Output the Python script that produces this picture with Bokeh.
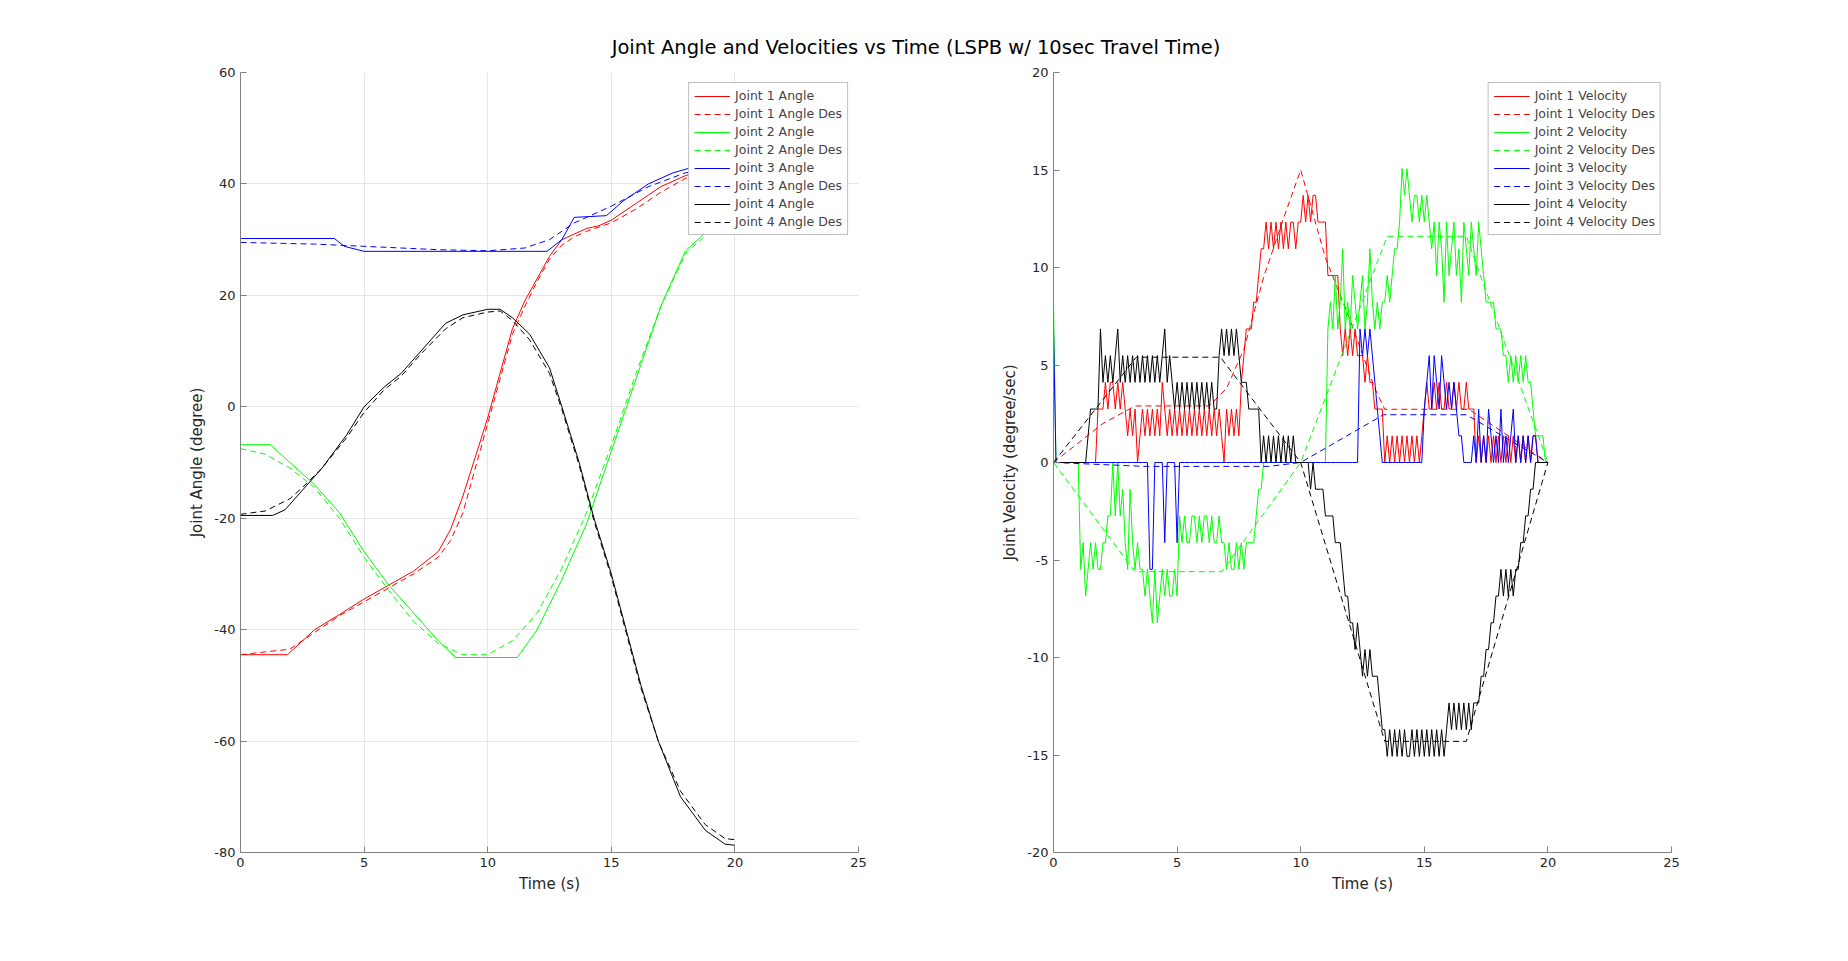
from bokeh.plotting import figure
from bokeh.models import Div, Legend, LegendItem, FixedTicker
from bokeh.layouts import column, row
from bokeh.embed import file_html
from bokeh.resources import INLINE

# ---------------- data: joint angles ----------------
j1_t = [0,1.9,3,4,5,6,7,8,8.5,9,9.5,10,10.5,11,11.5,12,12.5,13,13.5,14,14.5,15,15.5,16,16.5,17,17.5,18,19,20]
j1_a = [-44.5,-44.5,-40,-37.3,-34.5,-32,-29.5,-26,-22,-16,-9,-2,6,14,19,23,27,30,31,32,32.5,33.5,35,36.5,38,39.5,40.5,41.5,42.5,43]
j1d_t = [0,2,3,4,5,6,7,8,8.5,9,9.5,10,10.5,11,11.5,12,12.5,13,13.5,14,15,16,17,18,19,20]
j1d_a = [-44.5,-43.5,-40.5,-37.5,-35,-32.5,-30,-27,-24,-19,-11,-3,5,13,18,22.5,26.5,29,30.5,31.5,33,35.5,38.5,41,42,42.3]
j2_t = [0,1.2,2,3,4,5,6,7,8,8.7,11.2,12,13,14,15,16,17,18,19,20]
j2_a = [-6.8,-6.8,-10,-14,-19,-26,-32,-37,-42,-45,-45,-40,-31,-21,-8,5,18,28,32,34]
j2d_t = [0,1,2,3,4,5,6,7,8,9,10,11,12,13,14,15,16,17,18,19,20]
j2d_a = [-7.5,-8.5,-11,-14.5,-20,-27,-33,-38.5,-42.5,-44.5,-44.5,-42,-37,-29,-19,-7,6,18,27.5,31.5,33.5]
j3_t = [0,3.8,4.2,5,12.4,13,13.5,14.8,15.5,16.5,17.5,18.3,20]
j3_a = [30.2,30.2,28.8,27.9,27.9,30,34,34.3,37,40,42,43,43.5]
j3d_t = [0,3,5,8,10,11.5,12.5,13.5,15,16.5,18,20]
j3d_a = [29.5,29.2,28.8,28.2,28,28.5,30,33,36,39.5,42,43]
j4_t = [0,1.3,1.8,2.5,3.3,4.3,5,5.8,6.5,7.3,8.3,9,10,10.5,11,11.7,12.5,13,13.7,14.3,15,15.6,16.2,16.9,17.8,18.8,19.6,20]
j4_a = [-19.5,-19.5,-18.5,-15,-11,-5,0,3.5,6,10,15,16.5,17.5,17.5,16,13,7,0,-10,-20,-30,-40,-50,-60,-70,-76,-78.5,-78.7]
j4d_t = [0,1,2,2.5,3.3,4.3,5,5.8,6.5,7.3,8.3,9,10,10.5,11,11.7,12.5,13,13.7,14.3,15,15.6,16.2,16.9,17.8,18.8,19.6,20]
j4d_a = [-19.3,-18.7,-16.5,-14.5,-11,-5.5,-1,3,5.5,9.5,14,16,17,17.2,15.5,12,6,-0.5,-10.5,-20.5,-30.5,-40.5,-50.5,-60,-69,-75,-77.5,-77.7]

# ---------------- data: joint velocities (quantised, level index every 0.1 s) ----------------
vel_step = 1.37
vel_t = [i / 10 for i in range(201)]
j1_lv = ([0]*18 + [2,2,2,3,2,3,3,2,3,2,3,2]
         + [1,2,1,2,0,1,2,1,2,1, 2,1,2,1,3,2,1,2,1,2, 1,2,1,2,1,2,1,2,1,2, 1,2,1,2,1,2,1,2,1,0, 2,1,2,1,2,1]
         + [3,4,5,5,5,6,6,7,8,8,9,8,9,8,9,8,9,8,9,8,9,9,8,9,9]
         + [10,9,10,9,10,10,9,9,9,9] + [7,7,7,7,7]
         + [5,4,5,4,5,4,5,4,4,4,3,4,3,3] + [2,2,2,2]
         + [0,1,0,1,0,1,0,1,0,1,0,1,0,1,0,1]
         + [2,3,2,2,3,2,3,2,2,3,2,2,3,2,3,2,2,3,2,2,2]
         + [0,1,0,1,0,1,0,1,0,1,0,1,0,1,0,1,0,1,0,1,0,1,0,1,1,0] + [0,0,0,0])
j2_lv = ([6] + [0]*10 + [-4,-3,-5,-4,-3,-4,-3,-4,-4,-3,-3] + [-2,-2,0] + [-2,0,-2,-1]
         + [-3,-4,-1,-3,-4,-3,-4,-4] + [-5,-4,-5,-6,-4,-6,-5,-4,-5,-4,-5,-5,-4,-5]
         + [-2,-3,-2,-3,-3,-2,-2,-3,-2,-3,-2,-2,-3,-2,-3,-3,-2,-3]
         + [-3,-4,-3,-4,-4,-3,-4,-3,-4,-3,-3,-3] + [-3,-2,-1,-1] + [0]*26
         + [5,6,5,7,5,6,8,5,6,5,7,6,5,6] + [7,5,6,8,6,5,6,5,6,6] + [7,6,7,8,8] + [9,11,10,11]
         + [10,9,10,10,9,10,9,10,9] + [8,9,7,9,8,6,9,7,8,9,7,8,6,9,8,7,9,8,7,9]
         + [8,7,6,6] + [6,6,5] + [5,5,4,4] + [3,4,3,4,3,4,3,4,3,3] + [2,1,1,1] + [1,0,0])
j3_lv = ([5] + [0]*38 + [-4,-4,0,0,0,0,-3,0,0,0,0,-3] + [0]*73 + [5,4,5,4,5,4] + [3,2,1,0] + [0]*16
         + [2,3,4,2,4,3,2,4,3,2,3,2,3,2] + [1,1,0,0,0,0]
         + [1,0,2,0,1,0,2,1,0,1,0,2,0,1,0,1,2,0,1,0,1,0,1,0,1,1,0] + [0]*4)
j4_lv = ([0]*14 + [1,2,2,2,2]
         + [5,3,4,3,4,3,4,5,3,4, 3,4,3,4,3,4,3,4,3,4, 3,4,3,4,3,4,5,3,4,3]
         + [2,3,2,3,2,3,2,3,2,3,2,3,2,3,2,3,2,2] + [4,5,4,5,4,5,4,5,4] + [3,3,3] + [2]*5
         + [0,1,0,1,0,1,0,1,0,1,0,1,0,1,0] + [0]*5 + [-1,0,-1,-1,-1,-1,-2] + [-2,-2,-2,-3,-3]
         + [-3,-4,-5,-5] + [-6,-6,-7,-6] + [-7,-8,-7,-8,-7,-8] + [-8,-8,-9,-10,-10]
         + [-11,-10,-11,-10,-11,-10,-11,-10,-11,-11,-10,-11,-10,-11,-10,-11,-10,-11,-10,-11,-10,-11,-10,-11,-10]
         + [-9,-10,-9,-10,-9,-10,-9,-10,-9,-10,-9,-9] + [-9,-8,-8] + [-7,-7,-6,-6] + [-5,-5,-4,-5]
         + [-4,-5,-4,-5,-4,-4] + [-3,-3,-2,-2] + [-1,-1,0] + [0]*5)
j1vd_t = [0,1,2,3.3,6.3,7,7.7,8.5,9.3,10,11,12,13,13.4,16.8,20]
j1vd_v = [0,1,2,2.9,2.9,3.8,5.8,9.5,12.5,15,10.5,7.3,3.8,2.73,2.73,0]
j2vd_t = [0,3.3,6.8,10,13.5,16.7,20]
j2vd_v = [0,-5.6,-5.6,0,11.6,11.6,0]
j3vd_t = [0,3.7,8.7,10,13.35,16.7,20]
j3vd_v = [0,-0.2,-0.2,0,2.45,2.45,0]
j4vd_t = [0,3.35,6.75,10,13.4,16.7,20]
j4vd_v = [0,5.4,5.4,0,-14.3,-14.3,0]

FONT = "DejaVu Sans"
RED, GREEN, BLUE, BLACK = "#ff0000", "#00ff00", "#0000ff", "#000000"
DASH = "6 4"


def make_fig(ylabel, yr, yticks, bl, br, grid):
    p = figure(width=bl + 618 + br, height=872, x_range=(0, 25), y_range=yr,
               output_backend="svg", toolbar_location=None,
               min_border_left=bl, min_border_right=br, min_border_top=12, min_border_bottom=80)
    p.outline_line_color = None
    p.xaxis.ticker = FixedTicker(ticks=[0, 5, 10, 15, 20, 25])
    p.yaxis.ticker = FixedTicker(ticks=yticks)
    p.yaxis.major_label_overrides = {t: str(t) for t in yticks}
    p.xaxis.axis_label = "Time (s)"
    p.yaxis.axis_label = ylabel
    for ax in (p.xaxis, p.yaxis):
        ax.axis_line_color = "#808080"
        ax.major_tick_line_color = "#808080"
        ax.major_tick_in = 6
        ax.major_tick_out = 0
        ax.minor_tick_line_color = None
        ax.major_label_text_font = FONT
        ax.major_label_text_font_size = "13px"
        ax.major_label_text_color = "#262626"
        ax.axis_label_text_font = FONT
        ax.axis_label_text_font_size = "15px"
        ax.axis_label_text_font_style = "normal"
        ax.axis_label_text_color = "#262626"
    if grid:
        p.grid.grid_line_color = "#e6e6e6"
    else:
        p.grid.grid_line_color = None
    return p


def add_legend(p, items):
    lg = Legend(items=items, location="top_right")
    lg.label_text_font = FONT
    lg.label_text_font_size = "12.5px"
    lg.label_height = 12
    lg.glyph_height = 12
    lg.glyph_width = 36
    lg.spacing = 3
    lg.padding = 5
    lg.margin = 10
    lg.border_line_color = "#808080"
    lg.background_fill_alpha = 1
    p.add_layout(lg)


# ---------------- left: angles ----------------
p1 = make_fig("Joint Angle (degree)", (-80, 60), [-80, -60, -40, -20, 0, 20, 40, 60], 240, 58, True)
ang = [("Joint 1 Angle", j1_t, j1_a, RED, "solid"), ("Joint 1 Angle Des", j1d_t, j1d_a, RED, DASH),
       ("Joint 2 Angle", j2_t, j2_a, GREEN, "solid"), ("Joint 2 Angle Des", j2d_t, j2d_a, GREEN, DASH),
       ("Joint 3 Angle", j3_t, j3_a, BLUE, "solid"), ("Joint 3 Angle Des", j3d_t, j3d_a, BLUE, DASH),
       ("Joint 4 Angle", j4_t, j4_a, BLACK, "solid"), ("Joint 4 Angle Des", j4d_t, j4d_a, BLACK, DASH)]
items = []
for lab, t, v, c, d in ang:
    r = p1.line(t, v, line_color=c, line_dash=d, line_width=1)
    items.append(LegendItem(label=lab, renderers=[r]))
add_legend(p1, items)

# ---------------- right: velocities ----------------
p2 = make_fig("Joint Velocity (degree/sec)", (-20, 20), [-20, -15, -10, -5, 0, 5, 10, 15, 20], 137, 161, False)
vel = [("Joint 1 Velocity", vel_t, [k * vel_step for k in j1_lv], RED, "solid"),
       ("Joint 1 Velocity Des", j1vd_t, j1vd_v, RED, DASH),
       ("Joint 2 Velocity", vel_t, [k * vel_step for k in j2_lv], GREEN, "solid"),
       ("Joint 2 Velocity Des", j2vd_t, j2vd_v, GREEN, DASH),
       ("Joint 3 Velocity", vel_t, [k * vel_step for k in j3_lv], BLUE, "solid"),
       ("Joint 3 Velocity Des", j3vd_t, j3vd_v, BLUE, DASH),
       ("Joint 4 Velocity", vel_t, [k * vel_step for k in j4_lv], BLACK, "solid"),
       ("Joint 4 Velocity Des", j4vd_t, j4vd_v, BLACK, DASH)]
items = []
for lab, t, v, c, d in vel:
    r = p2.line(t, v, line_color=c, line_dash=d, line_width=1)
    items.append(LegendItem(label=lab, renderers=[r]))
add_legend(p2, items)

title = Div(text="Joint Angle and Velocities vs Time (LSPB w/ 10sec Travel Time)",
            width=1832, height=60, margin=(0, 0, 0, 0),
            styles={"font-family": FONT, "font-size": "19.5px", "color": "#000000",
                    "text-align": "center", "width": "1832px", "padding-top": "34px",
                    "box-sizing": "border-box"})

layout = column(title, row(p1, p2, spacing=0), spacing=0)
open("out.html", "w").write(file_html(layout, INLINE))
